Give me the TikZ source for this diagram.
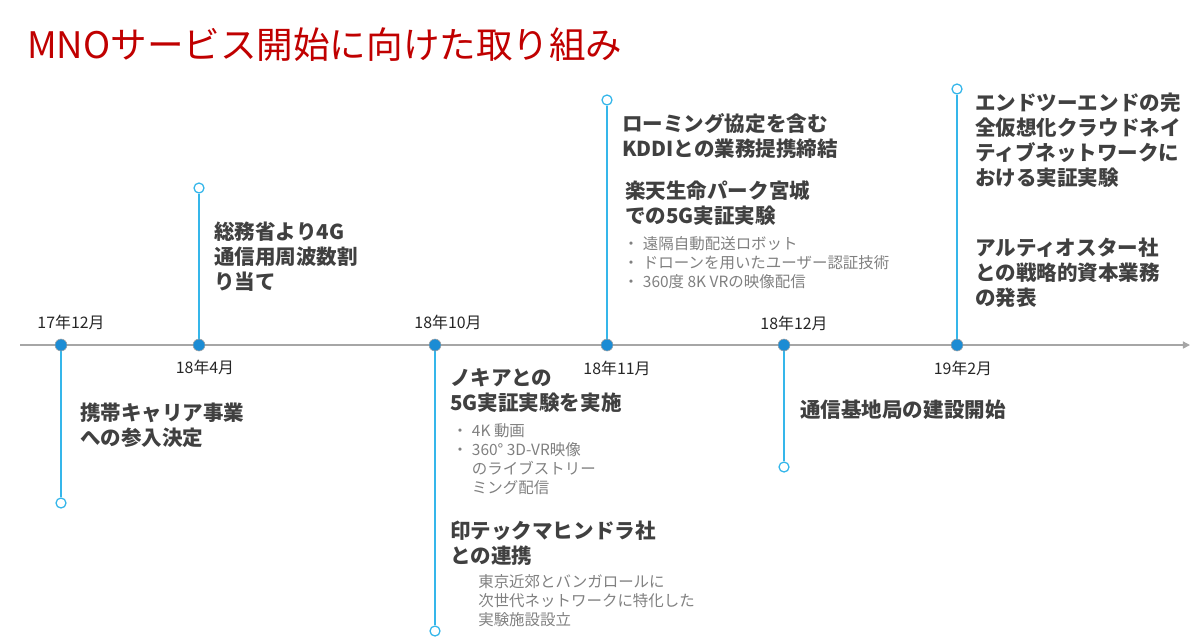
\documentclass[tikz,border=0pt]{standalone}
\usepackage{fontspec}
\setmainfont{Noto Sans CJK JP}
\usetikzlibrary{arrows.meta}
\definecolor{stemblue}{HTML}{35B6EA}
\definecolor{dotblue}{HTML}{1C8CD4}
\definecolor{axisgray}{HTML}{A6A6A6}
\definecolor{headgray}{HTML}{404040}
\definecolor{notegray}{HTML}{808080}
\definecolor{titlered}{HTML}{C00000}
\tikzset{
  event/.style={circle,fill=dotblue,draw=axisgray,line width=0.4pt,inner sep=0pt,minimum size=0.3cm},
  stemend/.style={circle,fill=white,draw=stemblue,line width=0.9pt,inner sep=0pt,minimum size=0.25cm},
  stem/.style={stemblue,line width=1pt},
  datelabel/.style={font=\fontsize{11.3}{13}\selectfont,text=black!85,inner sep=0pt},
  headline/.style={font=\bfseries\fontsize{14.6}{17.8}\selectfont,text=headgray,align=left,anchor=north west,inner sep=0pt},
  note/.style={font=\fontsize{11}{13.5}\selectfont,text=notegray,align=left,anchor=north west,inner sep=0pt},
}
\newcommand{\bulletlist}[1]{\begin{tabular}{@{}l@{\hspace{3pt}}l@{}}#1\end{tabular}}
\begin{document}
\begin{tikzpicture}[x=0.025cm,y=-0.025cm]
\useasboundingbox (0,0) rectangle (1200,641);
% title
\node[anchor=west,inner sep=0pt,text=titlered,font=\fontsize{26}{29}\selectfont] (title) at (27,45) {MNOサービス開始に向けた取り組み};
% time axis
\coordinate (ax0) at (20,345);
\coordinate (ax1) at (1190,345);
% stem ends
\node[stemend] (e1) at (61,503) {};
\node[stemend] (e2) at (199,188) {};
\node[stemend] (e3) at (435,631) {};
\node[stemend] (e4) at (607,100) {};
\node[stemend] (e5) at (784,467) {};
\node[stemend] (e6) at (957,89) {};
\coordinate (s1) at (61,345);
\coordinate (s2) at (199,345);
\coordinate (s3) at (435,345);
\coordinate (s4) at (607,345);
\coordinate (s5) at (784,345);
\coordinate (s6) at (957,345);
\draw[stem] (s1) -- (e1);
\draw[stem] (s2) -- (e2);
\draw[stem] (s3) -- (e3);
\draw[stem] (s4) -- (e4);
\draw[stem] (s5) -- (e5);
\draw[stem] (s6) -- (e6);
\draw[axisgray,line width=1pt,-{Triangle[length=5pt,width=5pt]}] (ax0) -- (ax1);
% events
\node[event] (d1) at (s1) {};
\node[event] (d2) at (s2) {};
\node[event] (d3) at (s3) {};
\node[event] (d4) at (s4) {};
\node[event] (d5) at (s5) {};
\node[event] (d6) at (s6) {};
% dates
\node[datelabel] (t1) at (71,322) {17年12月};
\node[datelabel] (t2) at (205,367) {18年4月};
\node[datelabel] (t3) at (448,322) {18年10月};
\node[datelabel] (t4) at (617,368) {18年11月};
\node[datelabel] (t5) at (794,323) {18年12月};
\node[datelabel] (t6) at (963,368) {19年2月};
% 17年12月
\node[headline] (entry) at (80,403) {携帯キャリア事業\\への参入決定};
% 18年4月
\node[headline] (band) at (214,222) {総務省より4G\\通信用周波数割\\り当て};
% 18年10月
\node[headline] (nokia) at (450,368) {ノキアとの\\5G実証実験を実施};
\node[note] (nokianote) at (452,423) {\bulletlist{・& 4K 動画\\ ・& 360° 3D-VR映像\\ & のライブストリー\\ & ミング配信}};
\node[headline] (tech) at (450,521) {印テックマヒンドラ社\\との連携};
\node[note] (technote) at (478,574) {東京近郊とバンガロールに\\次世代ネットワークに特化した\\実験施設設立};
% 18年11月
\node[headline] (kddi) at (622,113) {ローミング協定を含む\\KDDIとの業務提携締結};
\node[headline] (park) at (625,180) {楽天生命パーク宮城\\での5G実証実験};
\node[note] (parknote) at (623,236) {\bulletlist{・& 遠隔自動配送ロボット\\ ・& ドローンを用いたユーザー認証技術\\ ・& 360度 8K VRの映像配信}};
% 18年12月
\node[headline] (base) at (800,400) {通信基地局の建設開始};
% 19年2月
\node[headline] (cloud) at (975,93) {エンドツーエンドの完\\全仮想化クラウドネイ\\ティブネットワークに\\おける実証実験};
\node[headline] (altiostar) at (975,238) {アルティオスター社\\との戦略的資本業務\\の発表};
\end{tikzpicture}
\end{document}
